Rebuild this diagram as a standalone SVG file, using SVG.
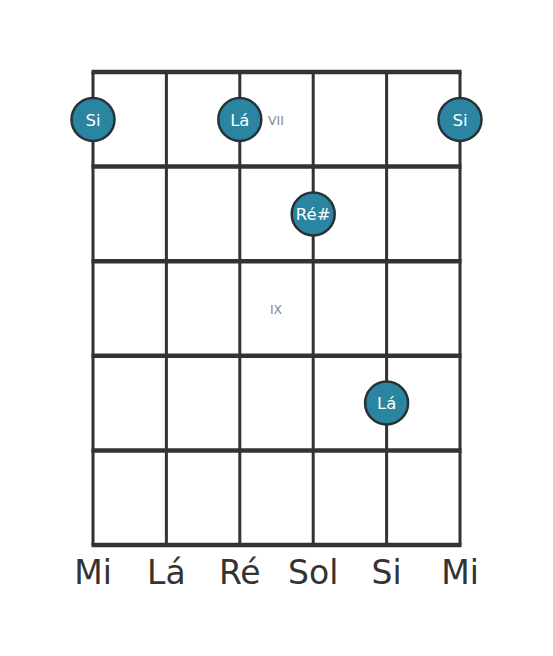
<svg xmlns="http://www.w3.org/2000/svg" width="553" height="656" viewBox="0 0 553 656">
<style>
.str{stroke:#333;stroke-width:3;fill:none}
.fret{stroke:#333;stroke-width:4.5;fill:none}
.dot{fill:#2b84a0;stroke:#263238;stroke-width:2.5}
.nl{font-family:"DejaVu Sans",sans-serif;font-size:16.5px;fill:#fff;text-anchor:middle}
.pos{font-family:"DejaVu Sans",sans-serif;font-size:12.5px;fill:#888;text-anchor:middle}
.sl{font-family:"DejaVu Sans",sans-serif;font-size:33px;fill:#333;text-anchor:middle}
</style>
<rect width="553" height="656" fill="#fff"/>
<g id="connectors">
<line class="str" x1="93" y1="72" x2="93" y2="545"/>
<line class="str" x1="166.4" y1="72" x2="166.4" y2="545"/>
<line class="str" x1="239.8" y1="72" x2="239.8" y2="545"/>
<line class="str" x1="313.2" y1="72" x2="313.2" y2="545"/>
<line class="str" x1="386.6" y1="72" x2="386.6" y2="545"/>
<line class="str" x1="460" y1="72" x2="460" y2="545"/>
<line class="fret" x1="91.5" y1="72" x2="461.5" y2="72"/>
<line class="fret" x1="91.5" y1="166.6" x2="461.5" y2="166.6"/>
<line class="fret" x1="91.5" y1="261.2" x2="461.5" y2="261.2"/>
<line class="fret" x1="91.5" y1="355.8" x2="461.5" y2="355.8"/>
<line class="fret" x1="91.5" y1="450.4" x2="461.5" y2="450.4"/>
<line class="fret" x1="91.5" y1="545" x2="461.5" y2="545"/>
</g>
<g id="pos-vii"><text class="pos" x="276" y="124.5">VII</text></g>
<g id="pos-ix"><text class="pos" x="276" y="313.5">IX</text></g>
<g id="n1"><circle class="dot" cx="93" cy="119.5" r="21.5"/><text class="nl" x="93" y="125.5">Si</text></g>
<g id="n2"><circle class="dot" cx="239.8" cy="119.5" r="21.5"/><text class="nl" x="239.8" y="125.5">Lá</text></g>
<g id="n3"><circle class="dot" cx="460" cy="119.5" r="21.5"/><text class="nl" x="460" y="125.5">Si</text></g>
<g id="n4"><circle class="dot" cx="313.2" cy="214" r="21.5"/><text class="nl" x="313.2" y="220">Ré#</text></g>
<g id="n5"><circle class="dot" cx="386.6" cy="403" r="21.5"/><text class="nl" x="386.6" y="409">Lá</text></g>
<g id="s1"><text class="sl" x="93" y="584">Mi</text></g>
<g id="s2"><text class="sl" x="166.4" y="584">Lá</text></g>
<g id="s3"><text class="sl" x="239.8" y="584">Ré</text></g>
<g id="s4"><text class="sl" x="313.2" y="584">Sol</text></g>
<g id="s5"><text class="sl" x="386.6" y="584">Si</text></g>
<g id="s6"><text class="sl" x="460" y="584">Mi</text></g>
</svg>
